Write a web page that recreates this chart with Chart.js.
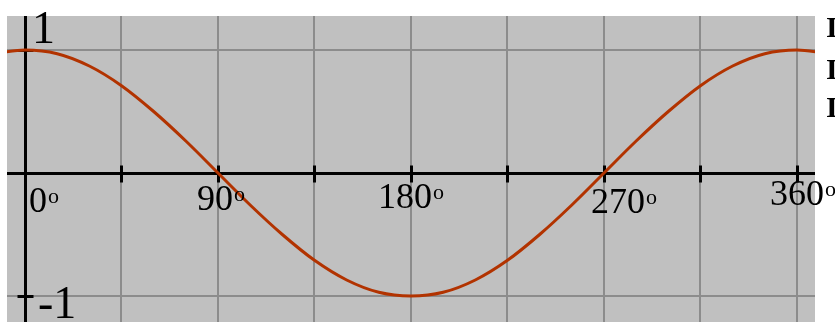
<!DOCTYPE html>
<html>
<head>
<meta charset="utf-8">
<script src="https://cdn.jsdelivr.net/npm/chart.js@4/dist/chart.umd.min.js"></script>
<style>
  html, body { margin: 0; padding: 0; background: #ffffff; }
  canvas { display: block; }
</style>
</head>
<body>
<canvas id="c" width="835" height="322"></canvas>
<script>
// ---- data ----
const angles    = [-15, 0, 15, 30, 45, 60, 75, 90, 105, 120, 135, 150, 165, 180, 195, 210, 225, 240, 255, 270, 285, 300, 315, 330, 345, 360, 375];
const curveVals = [0.97, 1, 0.97, 0.87, 0.71, 0.5, 0.26, 0, -0.26, -0.5, -0.71, -0.87, -0.97, -1, -0.97, -0.87, -0.71, -0.5, -0.26, 0, 0.26, 0.5, 0.71, 0.87, 0.97, 1, 0.97];
const xGridValues = [0, 45, 90, 135, 180, 225, 270, 315, 360];
const yGridValues = [-1, 0, 1];
const xLabelValues = [0, 90, 180, 270, 360];
const xLabels = ['0', '90', '180', '270', '360'];
const degreeMark = 'o';
const yLabelValues = [1, -1];
const yLabels = ['1', '-1'];
const sideTexts = ['I', 'I', 'I'];

// ---- styling / placement ----
const xLabelDx = [4, -21, -33, -13, -27];
const xLabelDy = [39, 37, 35, 40, 32];
const yLabelDx = [7, 13];
const yLabelDy = [-7, 22];
const sideTextY = [37, 79, 117];

const overlay = {
  id: 'overlay',
  beforeDraw(chart) {
    const a = chart.chartArea, ctx = chart.ctx;
    ctx.save();
    ctx.fillStyle = '#c0c0c0';
    ctx.fillRect(a.left, a.top, a.right - a.left, a.bottom - a.top);
    ctx.restore();
  },
  beforeDatasetsDraw(chart) {
    const a = chart.chartArea, ctx = chart.ctx;
    const xs = chart.scales.x, ys = chart.scales.y;
    const x0 = Math.round(xs.getPixelForValue(0)) + 0.5;
    const y0 = Math.round(ys.getPixelForValue(0)) + 0.5;
    ctx.save();
    ctx.strokeStyle = '#000000';
    ctx.lineWidth = 3;
    ctx.beginPath();
    ctx.moveTo(a.left, y0); ctx.lineTo(a.right, y0);
    ctx.moveTo(x0, a.top); ctx.lineTo(x0, a.bottom);
    xGridValues.forEach(v => {
      if (v === 0) return;
      const px = Math.round(xs.getPixelForValue(v)) + 0.5;
      ctx.moveTo(px, y0 - 8); ctx.lineTo(px, y0 + 9);
    });
    yLabelValues.forEach(v => {
      const py = Math.round(ys.getPixelForValue(v)) + 0.5;
      ctx.moveTo(x0 - 8, py); ctx.lineTo(x0 + 8, py);
    });
    ctx.stroke();
    ctx.restore();
  },
  afterDatasetsDraw(chart) {
    const ctx = chart.ctx;
    const xs = chart.scales.x, ys = chart.scales.y;
    const y0 = ys.getPixelForValue(0);
    ctx.save();
    ctx.fillStyle = '#000000';
    ctx.textAlign = 'left';
    ctx.textBaseline = 'alphabetic';
    xLabelValues.forEach((v, i) => {
      const px = xs.getPixelForValue(v) + xLabelDx[i];
      const py = y0 + xLabelDy[i];
      ctx.font = '36px "Liberation Serif", "Times New Roman", serif';
      ctx.fillText(xLabels[i], px, py);
      const w = ctx.measureText(xLabels[i]).width;
      ctx.font = '22px "Liberation Serif", "Times New Roman", serif';
      ctx.fillText(degreeMark, px + w + 1, py - 9);
    });
    const x0 = xs.getPixelForValue(0);
    ctx.font = '46px "Liberation Serif", "Times New Roman", serif';
    yLabelValues.forEach((v, i) => {
      ctx.fillText(yLabels[i], x0 + yLabelDx[i], ys.getPixelForValue(v) + yLabelDy[i]);
    });
    ctx.font = 'bold 30px "Liberation Serif", "Times New Roman", serif';
    sideTexts.forEach((t, i) => {
      ctx.fillText(t, 826, sideTextY[i]);
    });
    ctx.restore();
  }
};

const gridStyle = { color: '#8c8c8c', lineWidth: 2, drawTicks: false };

new Chart(document.getElementById('c'), {
  type: 'line',
  data: {
    datasets: [{
      data: angles.map((a, i) => ({ x: a, y: curveVals[i] })),
      borderColor: '#b23300',
      borderWidth: 3,
      pointRadius: 0,
      fill: false,
      cubicInterpolationMode: 'monotone'
    }]
  },
  options: {
    responsive: false,
    animation: false,
    events: [],
    layout: { padding: { left: 7, right: 20, top: 16, bottom: 0 } },
    plugins: { legend: { display: false }, tooltip: { enabled: false } },
    scales: {
      x: {
        type: 'linear',
        min: -8.39,
        max: 368.4,
        afterBuildTicks: s => { s.ticks = xGridValues.map(v => ({ value: v })); },
        ticks: { display: false },
        grid: gridStyle,
        border: { display: false }
      },
      y: {
        type: 'linear',
        min: -1.2114,
        max: 1.2764,
        afterBuildTicks: s => { s.ticks = yGridValues.map(v => ({ value: v })); },
        ticks: { display: false },
        grid: gridStyle,
        border: { display: false }
      }
    }
  },
  plugins: [overlay]
});
</script>
</body>
</html>
